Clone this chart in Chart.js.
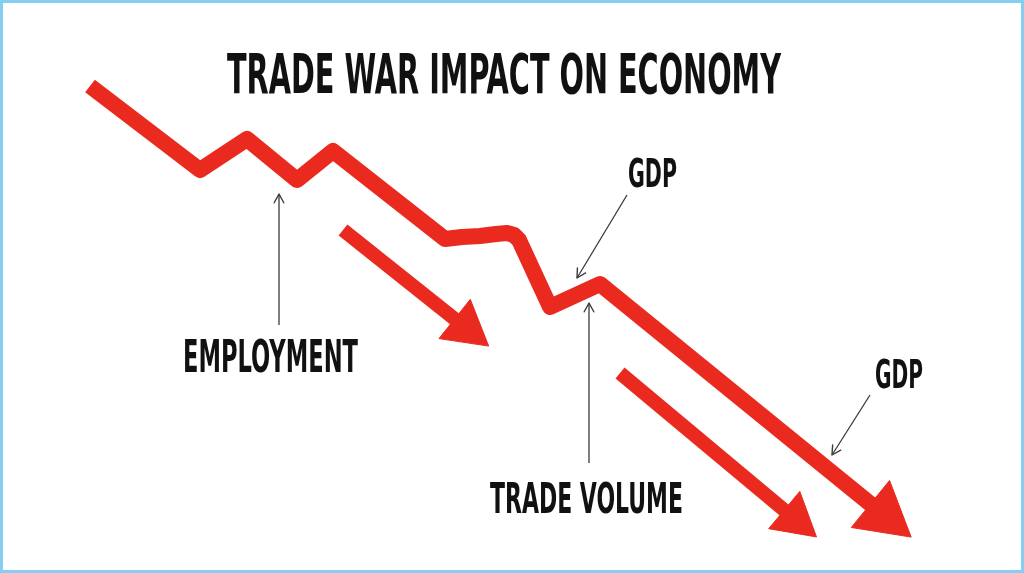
<!DOCTYPE html>
<html>
<head>
<meta charset="utf-8">
<script src="https://cdn.jsdelivr.net/npm/chart.js@4"></script>
<style>
  html, body { margin: 0; padding: 0; background: #ffffff; }
  #wrap { position: relative; width: 1024px; height: 573px; }
</style>
</head>
<body>
<div id="wrap"><canvas id="c"></canvas></div>
<script>
// ---- data (x = position along the story, y = economic level) ----
const mainX = [90, 200, 247, 297, 333, 445, 462, 480, 496, 507, 514, 519, 550, 600, 884];
const mainY = [487, 403, 434, 393, 422, 334, 336, 337, 339, 340, 338, 333, 266, 289, 58];

const arrowAX = [343, 466];
const arrowAY = [343, 245];

const arrowBX = [620, 795];
const arrowBY = [200, 54];

// annotation pointer lines (start -> tip)
const empX = [279, 279];
const empY = [248, 379];
const tradeX = [589, 589];
const tradeY = [110, 270];
const gdp1X = [627, 577];
const gdp1Y = [378, 295];
const gdp2X = [870, 832];
const gdp2Y = [178, 118];

const titleText = 'TRADE WAR IMPACT ON ECONOMY';
const labelTexts = ['EMPLOYMENT', 'TRADE VOLUME', 'GDP', 'GDP'];
const labelX = [270.5, 586.5, 652.5, 899];
const labelY = [201, 60, 386, 185];

// ---- layout / style (kept separate from data) ----
const RED = '#ea2a1f';
const INK = '#111111';
const textLayout = [
  { text: titleText, x: 504, y: 480, w: 554, cap: 40 },
  { text: labelTexts[0], x: labelX[0], y: labelY[0], w: 175, cap: 32 },
  { text: labelTexts[1], x: labelX[1], y: labelY[1], w: 193, cap: 31 },
  { text: labelTexts[2], x: labelX[2], y: labelY[2], w: 49, cap: 29 },
  { text: labelTexts[3], x: labelX[3], y: labelY[3], w: 48, cap: 28 }
];

const pts = (xs, ys) => xs.map((x, i) => ({ x: x, y: ys[i] }));

function headRotation(c) {
  const d = c.dataset.data;
  const i = c.dataIndex;
  if (i === 0) return 0;
  const xs = c.chart.scales.x, ys = c.chart.scales.y;
  const x0 = xs.getPixelForValue(d[i - 1].x), y0 = ys.getPixelForValue(d[i - 1].y);
  const x1 = xs.getPixelForValue(d[i].x), y1 = ys.getPixelForValue(d[i].y);
  return Math.atan2(x1 - x0, -(y1 - y0)) * 180 / Math.PI;
}

function arrowDataset(xs, ys, width, headR) {
  return {
    data: pts(xs, ys),
    showLine: true,
    borderColor: RED,
    backgroundColor: RED,
    borderWidth: width,
    borderCapStyle: 'butt',
    borderJoinStyle: 'round',
    tension: 0,
    pointStyle: 'triangle',
    pointRadius: (c) => c.dataIndex === c.dataset.data.length - 1 ? headR : 0,
    pointHoverRadius: (c) => c.dataIndex === c.dataset.data.length - 1 ? headR : 0,
    pointRotation: headRotation,
    pointBackgroundColor: RED,
    pointBorderColor: RED,
    pointBorderWidth: 1,
    clip: false
  };
}

function pointerDataset(xs, ys) {
  return {
    data: pts(xs, ys),
    showLine: true,
    borderColor: '#3a3a3a',
    borderWidth: 1.3,
    pointRadius: 0,
    pointHoverRadius: 0,
    chevron: true,
    clip: false
  };
}

const decorPlugin = {
  id: 'decor',
  beforeDraw(chart) {
    const ctx = chart.ctx;
    ctx.save();
    ctx.fillStyle = '#ffffff';
    ctx.fillRect(0, 0, chart.width, chart.height);
    ctx.restore();
  },
  afterDatasetsDraw(chart) {
    const ctx = chart.ctx;
    const xs = chart.scales.x, ys = chart.scales.y;
    chart.data.datasets.forEach((ds, i) => {
      if (!ds.chevron) return;
      const meta = chart.getDatasetMeta(i);
      const n = meta.data.length;
      const a = meta.data[n - 2], b = meta.data[n - 1];
      const ang = Math.atan2(b.y - a.y, b.x - a.x);
      const L = 10, spread = 0.5;
      ctx.save();
      ctx.strokeStyle = ds.borderColor;
      ctx.lineWidth = 1.4;
      ctx.lineCap = 'round';
      ctx.lineJoin = 'round';
      ctx.beginPath();
      ctx.moveTo(b.x - L * Math.cos(ang - spread), b.y - L * Math.sin(ang - spread));
      ctx.lineTo(b.x, b.y);
      ctx.lineTo(b.x - L * Math.cos(ang + spread), b.y - L * Math.sin(ang + spread));
      ctx.stroke();
      ctx.restore();
    });
    textLayout.forEach(t => {
      const size = t.cap / 0.729;
      ctx.save();
      ctx.font = 'bold ' + size + 'px "DejaVu Sans Condensed", "DejaVu Sans", sans-serif';
      ctx.fillStyle = INK;
      ctx.textBaseline = 'alphabetic';
      ctx.textAlign = 'left';
      const m = ctx.measureText(t.text).width;
      const sx = t.w / m;
      const px = xs.getPixelForValue(t.x);
      const py = ys.getPixelForValue(t.y);
      ctx.translate(px - t.w / 2, py);
      ctx.scale(sx, 1);
      ctx.fillText(t.text, 0, 0);
      ctx.restore();
    });
    ctx.save();
    ctx.strokeStyle = '#86cdf2';
    ctx.lineWidth = 3;
    ctx.strokeRect(1.5, 1.5, chart.width - 3, chart.height - 3);
    ctx.restore();
  }
};

new Chart(document.getElementById('c'), {
  type: 'scatter',
  data: {
    datasets: [
      pointerDataset(empX, empY),
      pointerDataset(tradeX, tradeY),
      pointerDataset(gdp1X, gdp1Y),
      pointerDataset(gdp2X, gdp2Y),
      arrowDataset(arrowAX, arrowAY, 14, 29),
      arrowDataset(arrowBX, arrowBY, 14, 28),
      arrowDataset(mainX, mainY, 16, 35)
    ]
  },
  options: {
    responsive: true,
    maintainAspectRatio: false,
    animation: false,
    events: [],
    layout: { padding: 0, autoPadding: false },
    plugins: {
      legend: { display: false },
      tooltip: { enabled: false },
      title: { display: false }
    },
    scales: {
      x: { type: 'linear', min: 0, max: 1024, display: false },
      y: { type: 'linear', min: 0, max: 573, display: false }
    }
  },
  plugins: [decorPlugin]
});
</script>
</body>
</html>
